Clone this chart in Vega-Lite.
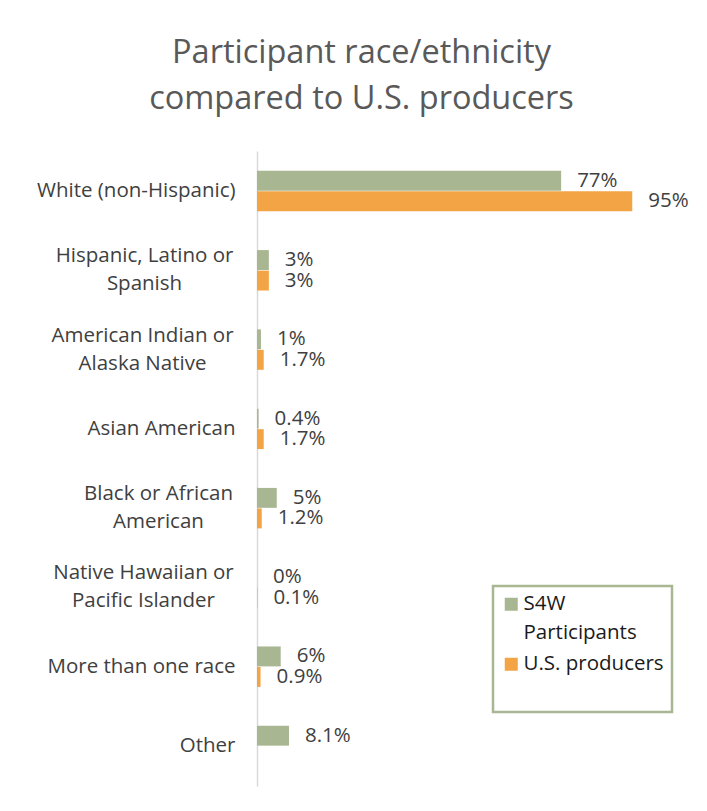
{
  "$schema": "https://vega.github.io/schema/vega-lite/v6.json",
  "width": 395,
  "height": 635,
  "autosize": "none",
  "padding": {"left": 257, "top": 151, "right": 55, "bottom": 25},
  "background": "white",
  "config": {"view": {"stroke": null}, "font": "Open Sans"},
  "title": {
    "text": ["Participant race/ethnicity", "compared to U.S. producers"],
    "fontSize": 32.5,
    "fontWeight": "normal",
    "font": "Open Sans",
    "color": "#595959",
    "anchor": "middle",
    "frame": "group",
    "dx": -93,
    "lineHeight": 46,
    "offset": 36
  },
  "data": {
    "values": [
      {"category": "White (non-Hispanic)", "series": "S4W Participants", "value": 0.77},
      {"category": "White (non-Hispanic)", "series": "U.S. producers", "value": 0.95},
      {"category": "Hispanic, Latino or Spanish", "series": "S4W Participants", "value": 0.03},
      {"category": "Hispanic, Latino or Spanish", "series": "U.S. producers", "value": 0.03},
      {"category": "American Indian or Alaska Native", "series": "S4W Participants", "value": 0.01},
      {"category": "American Indian or Alaska Native", "series": "U.S. producers", "value": 0.017},
      {"category": "Asian American", "series": "S4W Participants", "value": 0.004},
      {"category": "Asian American", "series": "U.S. producers", "value": 0.017},
      {"category": "Black or African American", "series": "S4W Participants", "value": 0.05},
      {"category": "Black or African American", "series": "U.S. producers", "value": 0.012},
      {"category": "Native Hawaiian or Pacific Islander", "series": "S4W Participants", "value": 0},
      {"category": "Native Hawaiian or Pacific Islander", "series": "U.S. producers", "value": 0.001},
      {"category": "More than one race", "series": "S4W Participants", "value": 0.06},
      {"category": "More than one race", "series": "U.S. producers", "value": 0.009},
      {"category": "Other", "series": "S4W Participants", "value": 0.081}
    ]
  },
  "encoding": {
    "y": {
      "field": "category",
      "type": "nominal",
      "sort": ["White (non-Hispanic)", "Hispanic, Latino or Spanish", "American Indian or Alaska Native", "Asian American", "Black or African American", "Native Hawaiian or Pacific Islander", "More than one race", "Other"],
      "scale": {"paddingInner": 0.49, "paddingOuter": 0.25},
      "axis": {
        "title": null,
        "ticks": false,
        "domainColor": "#d9d9d9",
        "domainWidth": 1.5,
        "labelFontSize": 20.5,
        "labelColor": "#404040",
        "labelFont": "Open Sans",
        "labelLimit": 300,
        "labelLineHeight": 28,
        "labelAlign": {"condition": {"test": "indexof(datum.value, ' or ') >= 0", "value": "center"}, "value": "right"},
        "labelOffset": {"condition": {"test": "indexof(datum.value, ' or ') >= 0", "value": -14}, "value": 0},
        "labelPadding": {"condition": [
          {"test": "datum.value == 'Hispanic, Latino or Spanish'", "value": 113},
          {"test": "datum.value == 'American Indian or Alaska Native'", "value": 115},
          {"test": "datum.value == 'Black or African American'", "value": 99},
          {"test": "datum.value == 'Native Hawaiian or Pacific Islander'", "value": 114}
        ], "value": 22},
        "labelExpr": "datum.value == 'Hispanic, Latino or Spanish' ? ['Hispanic, Latino or','Spanish'] : datum.value == 'American Indian or Alaska Native' ? ['American Indian or','Alaska Native'] : datum.value == 'Black or African American' ? ['Black or African','American'] : datum.value == 'Native Hawaiian or Pacific Islander' ? ['Native Hawaiian or','Pacific Islander'] : datum.label"
      }
    },
    "yOffset": {
      "field": "series",
      "type": "nominal",
      "sort": ["S4W Participants", "U.S. producers"],
      "scale": {"paddingInner": 0.03}
    },
    "x": {
      "field": "value",
      "type": "quantitative",
      "scale": {"domain": [0, 1]},
      "axis": null
    }
  },
  "layer": [
    {
      "mark": {"type": "bar"},
      "encoding": {
        "color": {
          "field": "series",
          "type": "nominal",
          "scale": {"domain": ["S4W Participants", "U.S. producers"], "range": ["#a8b692", "#f3a445"]},
          "legend": {
            "title": null,
            "orient": "none",
            "legendX": 236,
            "legendY": 435,
            "strokeColor": "#a8b692",
            "fillColor": "white",
            "padding": 8,
            "symbolType": "square",
            "symbolSize": 169,
            "symbolStrokeWidth": 0,
            "labelOffset": 2,
            "labelFontSize": 20.5,
            "labelFont": "Open Sans",
            "labelColor": "#1a1a1a",
            "labelLimit": 200,
            "rowPadding": 10,
            "labelExpr": "datum.label == 'S4W Participants' ? ['S4W','Participants'] : [datum.label, ' ']",
            "encode": {
              "legend": {"update": {"strokeWidth": {"value": 2.5}}},
              "labels": {"update": {"lineHeight": {"value": 29}}}
            }
          }
        }
      }
    },
    {
      "mark": {"type": "text", "align": "left", "baseline": "middle", "dx": 16, "fontSize": 20.5, "font": "Open Sans", "color": "#404040"},
      "encoding": {
        "text": {"field": "value", "type": "quantitative", "format": ".1~%"}
      }
    }
  ]
}
